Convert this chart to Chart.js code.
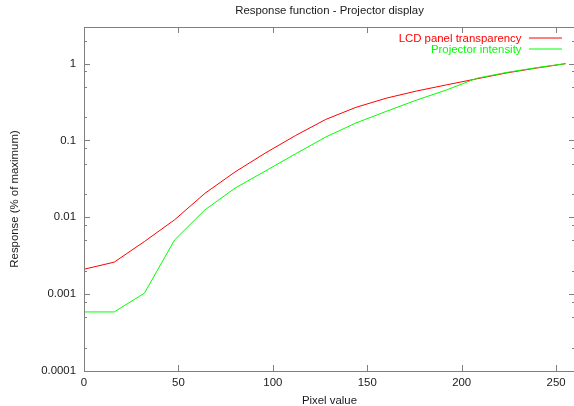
<!DOCTYPE html>
<html>
<head>
<meta charset="utf-8">
<script src="https://cdn.jsdelivr.net/npm/chart.js@4/dist/chart.umd.min.js"></script>
<style>
  html, body { margin: 0; padding: 0; overflow: hidden; background: #fff; }
  #wrap { position: relative; width: 578px; height: 406px; }
</style>
</head>
<body>
<div id="wrap"><canvas id="c"></canvas></div>
<script>
// ---- data ----
const chartTitle = 'Response function - Projector display';
const xAxisTitle = 'Pixel value';
const yAxisTitle = 'Response (% of maximum)';

const pixelValues = [0, 16, 32, 48, 64, 80, 96, 112, 128, 144, 160, 176, 192, 208, 224, 240, 255];
const lcdTransparency = [0.00211, 0.00261, 0.00484, 0.0093, 0.0205, 0.039, 0.0686, 0.116, 0.188, 0.27, 0.355, 0.44, 0.53, 0.635, 0.76, 0.88, 1.0];
const projectorIntensity = [0.000587, 0.000587, 0.00103, 0.00509, 0.0125, 0.024, 0.040, 0.067, 0.111, 0.169, 0.239, 0.335, 0.455, 0.645, 0.77, 0.89, 1.0];

const seriesNames = ['LCD panel transparency', 'Projector intensity'];
const seriesColors = ['#ff0000', '#00ff00'];

const xTicks = [0, 50, 100, 150, 200, 250];
const xTickLabels = ['0', '50', '100', '150', '200', '250'];
const yTicks = [0.0001, 0.001, 0.01, 0.1, 1];
const yTickLabels = ['0.0001', '0.001', '0.01', '0.1', '1'];
const yMinorFactors = [2, 5, 8];
const xRange = [0, 260];
const yRange = [0.0001, 3];

const FONT = '11.4px "Liberation Sans", Arial, Helvetica, sans-serif';
const TEXT = '#1a1a1a';
const AXIS = '#7f7f7f';

const gnuplotFrame = {
  id: 'gnuplotFrame',
  afterDatasetsDraw(chart) {
    const ctx = chart.ctx;
    const a = chart.chartArea;
    const xs = chart.scales.x, ys = chart.scales.y;
    ctx.save();
    // border
    ctx.strokeStyle = AXIS;
    ctx.lineWidth = 1;
    ctx.strokeRect(Math.round(a.left) + 0.5, Math.round(a.top) + 0.5,
                   Math.round(a.right - a.left), Math.round(a.bottom - a.top));
    // x ticks (bottom and top, inward)
    ctx.beginPath();
    xTicks.forEach(v => {
      const px = Math.round(xs.getPixelForValue(v)) + 0.5;
      ctx.moveTo(px, a.bottom); ctx.lineTo(px, a.bottom - 6);
      ctx.moveTo(px, a.top); ctx.lineTo(px, a.top + 6);
    });
    // y major ticks
    yTicks.forEach(v => {
      const py = Math.round(ys.getPixelForValue(v)) + 0.5;
      ctx.moveTo(a.left, py); ctx.lineTo(a.left + 6, py);
      ctx.moveTo(a.right, py); ctx.lineTo(a.right - 6, py);
    });
    // y minor ticks
    yTicks.forEach(v => {
      yMinorFactors.forEach(f => {
        const val = v * f;
        if (val > yRange[1]) return;
        const py = Math.round(ys.getPixelForValue(val)) + 0.5;
        ctx.moveTo(a.left, py); ctx.lineTo(a.left + 3, py);
        ctx.moveTo(a.right, py); ctx.lineTo(a.right - 3, py);
      });
    });
    ctx.stroke();

    ctx.fillStyle = TEXT;
    ctx.font = FONT;
    // x tick labels
    ctx.textAlign = 'center';
    ctx.textBaseline = 'middle';
    xTicks.forEach((v, i) => {
      ctx.fillText(xTickLabels[i], xs.getPixelForValue(v), a.bottom + 12);
    });
    // y tick labels
    ctx.textAlign = 'right';
    yTicks.forEach((v, i) => {
      ctx.fillText(yTickLabels[i], a.left - 8, ys.getPixelForValue(v));
    });
    // axis titles
    const cx = (a.left + a.right) / 2;
    ctx.textAlign = 'center';
    ctx.fillText(xAxisTitle, cx, a.bottom + 30);
    ctx.fillText(chartTitle, cx, 11);
    ctx.save();
    ctx.translate(15, (a.top + a.bottom) / 2);
    ctx.rotate(-Math.PI / 2);
    ctx.fillText(yAxisTitle, 0, 0);
    ctx.restore();

    // legend (top right, gnuplot style)
    const legY = [38.5, 49.5];
    seriesNames.forEach((name, i) => {
      ctx.fillStyle = seriesColors[i];
      ctx.textAlign = 'right';
      ctx.fillText(name, 521.5, legY[i]);
      ctx.strokeStyle = seriesColors[i];
      ctx.lineWidth = 1.2;
      ctx.beginPath();
      ctx.moveTo(529, legY[i] - 0.5);
      ctx.lineTo(562, legY[i] - 0.5);
      ctx.stroke();
    });
    ctx.restore();
  }
};

new Chart(document.getElementById('c'), {
  type: 'line',
  data: {
    datasets: [
      {
        label: seriesNames[0],
        data: pixelValues.map((x, i) => ({ x: x, y: lcdTransparency[i] })),
        borderColor: seriesColors[0], borderWidth: 1, pointRadius: 0,
        tension: 0, fill: false, order: 1
      },
      {
        label: seriesNames[1],
        data: pixelValues.map((x, i) => ({ x: x, y: projectorIntensity[i] })),
        borderColor: seriesColors[1], borderWidth: 1, pointRadius: 0,
        tension: 0, fill: false, order: 0
      }
    ]
  },
  options: {
    responsive: true,
    maintainAspectRatio: false,
    animation: false,
    devicePixelRatio: 1,
    layout: { padding: { left: 84, top: 27, right: 3, bottom: 35 } },
    plugins: { legend: { display: false }, title: { display: false }, tooltip: { enabled: false } },
    scales: {
      x: { type: 'linear', min: xRange[0], max: xRange[1], display: false },
      y: { type: 'logarithmic', min: yRange[0], max: yRange[1], display: false }
    }
  },
  plugins: [gnuplotFrame]
});
</script>
</body>
</html>
